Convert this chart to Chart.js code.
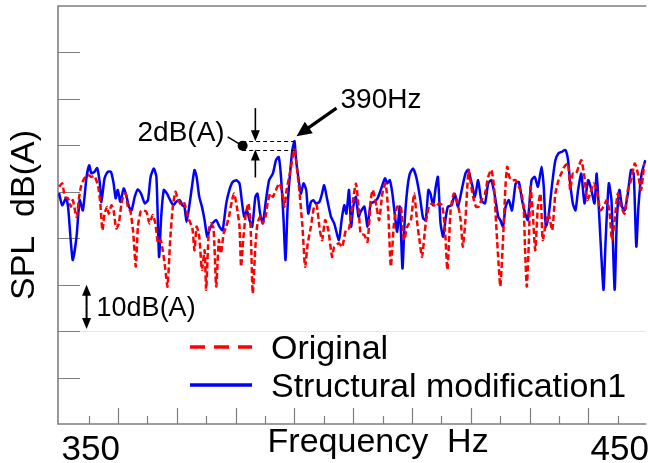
<!DOCTYPE html>
<html>
<head>
<meta charset="utf-8">
<script src="https://cdn.jsdelivr.net/npm/chart.js@4.4.1/dist/chart.umd.min.js"></script>
<style>
  html, body { margin: 0; padding: 0; background: #fff; }
  #wrap { width: 648px; height: 463px; }
</style>
</head>
<body>
<div id="wrap"><canvas id="splChart" width="648" height="463"></canvas></div>
<script>
// Original (red dashed)
const origFreq = [344.4, 345.0, 345.5, 346.1, 346.6, 347.0, 347.7, 348.2, 348.6, 349.2, 349.9, 350.5, 351.1, 351.8, 352.2, 352.6, 353.0, 353.5, 353.8, 354.3,
  354.7, 355.2, 355.7, 356.2, 356.6, 357.0, 357.4, 357.9, 358.4, 358.9, 359.3, 359.8, 360.2, 360.9, 361.5, 362.1, 362.6, 363.1, 363.6, 364.0,
  364.5, 364.9, 365.4, 365.9, 366.4, 366.8, 367.5, 368.1, 368.5, 369.0, 369.6, 370.0, 370.4, 370.9, 371.4, 371.9, 372.2, 372.7, 373.1, 373.6,
  374.1, 374.6, 375.0, 375.5, 376.0, 376.5, 377.1, 377.5, 378.0, 378.5, 378.8, 379.2, 379.7, 380.2, 380.6, 381.0, 381.5, 381.9, 382.4, 382.9,
  383.4, 383.8, 384.3, 384.8, 385.4, 386.0, 386.5, 387.0, 387.4, 387.9, 388.9, 389.3, 389.8, 390.4, 390.9, 391.4, 392.0, 392.6, 393.1, 393.6,
  394.1, 394.7, 395.3, 396.0, 396.4, 397.3, 397.9, 398.6, 399.2, 399.8, 400.5, 401.0, 401.4, 402.1, 402.7, 403.3, 403.7, 404.4, 404.9, 405.5,
  406.1, 406.6, 407.1, 407.7, 408.3, 409.0, 409.6, 410.2, 410.9, 411.5, 412.1, 412.6, 413.0, 413.7, 414.3, 414.9, 415.6, 416.2, 416.8, 417.3,
  417.8, 418.4, 419.0, 419.6, 420.3, 420.7, 421.2, 421.8, 422.4, 422.8, 423.2, 423.7, 424.2, 424.9, 425.5, 426.1, 426.6, 427.0, 427.5, 427.8,
  428.3, 428.8, 429.1, 429.5, 430.0, 430.7, 431.3, 431.8, 432.2, 432.5, 432.8, 433.2, 433.5, 433.9, 434.4, 434.9, 435.4, 435.8, 436.3, 436.9,
  437.6, 438.2, 438.8, 439.3, 439.9, 440.6, 441.0, 441.5, 442.1, 442.6, 443.1, 443.7, 444.2, 444.8, 445.4, 446.0, 446.7, 447.3, 447.9, 448.4,
  448.9, 449.4, 450.0, 450.6, 451.3, 451.9, 452.5, 453.2, 453.8, 454.4, 455.0];
const origLevel = [81.1, 81.8, 78.9, 78.6, 76.8, 78.2, 74.6, 78.9, 81.4, 82.9, 83.6, 83.2, 83.4, 81.1, 77.5, 71.7, 75.3, 76.8, 75.3, 77.1,
  76.0, 72.1, 73.2, 77.5, 79.3, 79.6, 76.8, 75.7, 71.4, 63.9, 72.5, 75.7, 76.0, 75.7, 73.2, 75.0, 73.2, 68.9, 69.6, 67.4,
  63.2, 59.6, 69.6, 76.8, 80.0, 78.6, 77.1, 77.5, 75.7, 73.9, 72.1, 67.4, 72.5, 70.3, 63.2, 67.4, 58.9, 71.7, 73.2, 72.1,
  59.6, 69.6, 66.7, 71.0, 72.5, 74.6, 78.2, 79.6, 76.8, 72.5, 63.9, 69.6, 75.3, 77.5, 72.5, 58.1, 68.1, 73.2, 74.6, 73.2,
  74.6, 77.5, 79.6, 78.9, 80.4, 81.8, 80.4, 76.8, 80.4, 83.2, 89.1, 85.7, 80.4, 72.5, 63.9, 68.9, 72.5, 76.8, 77.1, 72.5,
  69.6, 73.9, 71.7, 66.0, 68.1, 68.9, 68.1, 71.7, 72.1, 76.8, 81.8, 76.8, 71.0, 70.7, 69.2, 78.2, 80.4, 76.8, 73.9, 79.6,
  81.8, 76.0, 63.9, 73.2, 76.8, 76.8, 69.6, 72.5, 73.9, 79.6, 73.2, 68.9, 66.0, 73.2, 76.8, 77.5, 76.8, 77.5, 77.1, 72.5,
  63.2, 76.0, 79.6, 78.2, 73.9, 68.1, 73.9, 84.7, 80.4, 78.2, 76.8, 76.8, 78.2, 79.6, 83.2, 84.7, 81.1, 73.2, 63.9, 59.6,
  69.6, 81.8, 85.4, 83.2, 82.5, 82.5, 81.1, 79.6, 76.8, 66.7, 59.6, 69.6, 81.1, 76.0, 67.4, 76.8, 79.6, 69.6, 72.5, 75.3,
  71.7, 79.6, 82.5, 83.9, 85.4, 86.1, 80.4, 83.9, 83.9, 85.4, 86.8, 83.2, 78.2, 79.6, 81.8, 80.4, 76.0, 76.8, 78.2, 76.0,
  69.6, 73.9, 79.6, 76.8, 75.3, 80.4, 82.5, 86.1, 83.9, 80.4, 86.1];

// Structural modification1 (blue solid)
const modFreq = [344.4, 345.0, 345.7, 346.1, 346.6, 347.0, 347.7, 348.3, 348.9, 349.6, 350.1, 350.5, 351.1, 351.6, 352.1, 352.4, 353.0, 353.6, 354.2, 354.7,
  355.1, 355.5, 356.0, 356.6, 357.1, 357.6, 358.1, 358.7, 359.3, 359.9, 360.6, 361.2, 361.7, 362.3, 362.8, 363.3, 363.7, 364.2, 364.8, 365.4,
  366.0, 366.5, 367.2, 367.7, 368.1, 368.5, 369.0, 369.6, 370.0, 370.4, 370.9, 371.4, 371.9, 372.4, 372.8, 373.4, 374.1, 374.7, 375.3, 376.0,
  376.6, 377.2, 377.9, 378.5, 379.0, 379.4, 379.9, 380.4, 380.9, 381.5, 381.9, 382.4, 382.9, 383.5, 384.1, 384.8, 385.4, 385.9, 386.3, 386.8,
  387.2, 387.6, 388.0, 388.5, 388.9, 389.2, 389.7, 390.1, 390.6, 391.1, 391.5, 392.0, 392.5, 392.9, 393.6, 394.1, 394.5, 395.1, 395.8, 396.4,
  397.3, 397.8, 398.3, 398.7, 399.2, 399.6, 400.0, 400.5, 401.0, 401.4, 402.1, 402.7, 403.3, 403.9, 404.6, 405.2, 406.0, 406.4, 406.9, 407.4,
  407.9, 408.3, 408.8, 409.3, 409.7, 410.2, 410.7, 411.3, 411.9, 412.6, 413.2, 413.7, 414.2, 414.6, 415.1, 415.6, 416.0, 416.5, 417.0, 417.5,
  417.9, 418.6, 419.2, 419.8, 420.5, 421.2, 421.7, 422.4, 423.0, 423.6, 424.2, 424.9, 425.5, 426.1, 426.8, 427.4, 427.8, 428.3, 428.8, 429.4,
  430.0, 430.7, 431.3, 431.9, 432.5, 433.0, 433.7, 434.3, 434.9, 435.6, 436.0, 436.4, 436.9, 437.6, 438.2, 438.8, 439.4, 440.1, 440.6, 441.0,
  441.5, 442.0, 442.5, 443.1, 443.7, 444.4, 445.0, 445.6, 446.0, 446.5, 446.9, 447.3, 447.7, 448.3, 448.8, 449.4, 449.8, 450.3, 450.8, 451.3,
  451.9, 452.5, 453.0, 453.5, 453.9, 454.5, 455.2];
const modLevel = [79.7, 77.1, 78.6, 76.8, 69.6, 65.3, 70.3, 78.2, 76.0, 83.2, 85.7, 84.0, 84.3, 85.1, 81.9, 77.8, 82.9, 84.3, 84.3, 81.9,
  78.6, 80.4, 77.8, 80.7, 79.3, 76.8, 76.0, 78.9, 80.5, 79.6, 77.5, 78.2, 83.2, 85.0, 83.2, 66.0, 74.6, 80.4, 79.6, 78.2,
  77.1, 77.8, 78.2, 77.1, 76.8, 73.5, 76.8, 81.8, 84.7, 83.2, 78.9, 76.8, 73.9, 70.3, 71.7, 73.2, 73.9, 72.5, 71.7, 77.5,
  80.4, 82.1, 82.5, 81.8, 77.5, 74.6, 76.0, 73.9, 72.5, 78.9, 79.6, 75.3, 73.2, 78.2, 82.5, 83.9, 86.8, 87.5, 83.9, 74.6,
  65.3, 76.8, 83.2, 89.0, 90.9, 86.8, 82.5, 79.6, 81.8, 80.4, 75.3, 77.8, 78.2, 77.5, 77.8, 79.6, 81.4, 78.2, 74.6, 73.2,
  69.6, 73.9, 77.1, 75.3, 80.4, 72.5, 76.8, 78.9, 74.6, 75.7, 76.8, 72.5, 77.5, 77.8, 78.6, 80.4, 82.9, 81.8, 82.5, 79.6,
  74.6, 71.4, 76.8, 63.5, 73.2, 80.4, 83.9, 85.0, 83.2, 78.9, 74.3, 73.9, 80.4, 79.6, 77.1, 81.1, 83.2, 73.2, 70.3, 74.6,
  76.8, 77.1, 79.6, 76.8, 80.4, 83.9, 84.7, 81.8, 78.9, 82.5, 78.2, 77.5, 81.8, 82.5, 78.9, 74.6, 73.9, 72.5, 76.8, 78.2,
  76.0, 81.8, 82.1, 78.2, 75.3, 73.9, 82.5, 83.2, 81.1, 85.4, 81.1, 72.5, 74.6, 81.8, 86.8, 88.3, 88.6, 89.0, 86.8, 81.8,
  77.5, 76.0, 80.4, 83.9, 77.5, 82.5, 80.4, 77.5, 83.9, 74.6, 66.0, 58.9, 69.6, 81.8, 78.2, 58.9, 73.2, 80.4, 76.8, 76.0,
  79.6, 84.7, 83.9, 68.2, 76.8, 83.9, 86.8];

const seriesNames = ['Original', 'Structural modification1'];
const xLabelValues = [350, 450];      // the only labelled frequencies
const xTickStep = 100 / 18;            // spacing of the frequency tick marks
const freqMin = 344.2, freqMax = 455.4;
const splMin = 30, splMax = 120, splStep = 10;

const axisGrey = '#7f7f7f';
const sans = "'Liberation Sans', Arial, sans-serif";

function toPoints(freqs, levels) {
    return freqs.map((f, i) => ({x: f, y: levels[i]}));
}

function arrowHead(ctx, x1, y1, x2, y2, len, half) {
    const a = Math.atan2(y2 - y1, x2 - x1);
    ctx.beginPath();
    ctx.moveTo(x2, y2);
    ctx.lineTo(x2 - len * Math.cos(a) + half * Math.sin(a), y2 - len * Math.sin(a) - half * Math.cos(a));
    ctx.lineTo(x2 - len * Math.cos(a) - half * Math.sin(a), y2 - len * Math.sin(a) + half * Math.cos(a));
    ctx.closePath();
    ctx.fill();
}

function arrow(ctx, x1, y1, x2, y2, width, len, half) {
    const a = Math.atan2(y2 - y1, x2 - x1);
    ctx.lineWidth = width;
    ctx.beginPath();
    ctx.moveTo(x1, y1);
    ctx.lineTo(x2 - (len - 1) * Math.cos(a), y2 - (len - 1) * Math.sin(a));
    ctx.stroke();
    arrowHead(ctx, x1, y1, x2, y2, len, half);
}

// frame, inward tick marks, legend and the notes on the plot
const decor = {
    id: 'decor',
    beforeDatasetsDraw(chart) {
        const {ctx, chartArea: a, scales: {x, y}} = chart;
        ctx.save();
        // light line along the top of the legend box
        ctx.strokeStyle = '#e6e6e6';
        ctx.lineWidth = 1;
        ctx.beginPath();
        ctx.moveTo(a.left, Math.round(y.getPixelForValue(50)) + 0.5);
        ctx.lineTo(a.right, Math.round(y.getPixelForValue(50)) + 0.5);
        ctx.stroke();

        ctx.strokeStyle = axisGrey;
        ctx.lineWidth = 1.2;
        ctx.beginPath();
        y.ticks.forEach(t => {
            if (t.value <= splMin || t.value >= splMax) return;
            const py = Math.round(y.getPixelForValue(t.value)) + 0.5;
            ctx.moveTo(a.left, py);
            ctx.lineTo(a.left + 22, py);
        });
        x.ticks.forEach(t => {
            const k = Math.round((t.value - 350) / xTickStep);
            const px = Math.round(x.getPixelForValue(t.value)) + 0.5;
            ctx.moveTo(px, a.bottom);
            ctx.lineTo(px, a.bottom - (Math.abs(k) % 2 === 1 ? 16 : 8));
        });
        ctx.stroke();

        ctx.lineWidth = 1.6;
        ctx.beginPath();
        ctx.moveTo(a.right, a.top);
        ctx.lineTo(a.left, a.top);
        ctx.lineTo(a.left, a.bottom);
        ctx.lineTo(a.right, a.bottom);
        ctx.stroke();
        ctx.restore();
    },
    afterDatasetsDraw(chart) {
        const {ctx, chartArea: a, scales: {x, y}} = chart;
        ctx.save();

        // legend
        const ds = chart.data.datasets;
        const rows = [a.bottom - 77, a.bottom - 39];
        ds.forEach((d, i) => {
            ctx.strokeStyle = d.borderColor;
            ctx.lineWidth = 3.5;
            ctx.setLineDash(d.borderDash ? [15, 9] : []);
            ctx.beginPath();
            ctx.moveTo(a.left + 132, rows[i]);
            ctx.lineTo(a.left + 194, rows[i]);
            ctx.stroke();
            ctx.setLineDash([]);
            ctx.fillStyle = '#000';
            ctx.font = '34px ' + sans;
            ctx.textAlign = 'left';
            ctx.textBaseline = 'alphabetic';
            ctx.fillText(d.label, a.left + 213, rows[i] + 12);
        });

        // x axis title
        ctx.font = '34px ' + sans;
        ctx.textAlign = 'center';
        ctx.fillText('Frequency  Hz', x.getPixelForValue(404.7), a.bottom + 28);

        // 2dB(A) difference at the 390 Hz peak
        let pk = 0;
        modLevel.forEach((v, i) => { if (v > modLevel[pk]) pk = i; });
        const peakX = x.getPixelForValue(modFreq[pk]);
        const hiY = y.getPixelForValue(modLevel[pk]);
        const loY = y.getPixelForValue(Math.max(...origLevel));
        const startX = x.getPixelForValue(379.0);
        ctx.strokeStyle = '#000';
        ctx.fillStyle = '#000';
        ctx.lineWidth = 1;
        ctx.setLineDash([4, 3]);
        ctx.beginPath();
        ctx.moveTo(startX, Math.round(hiY) + 0.5);
        ctx.lineTo(peakX, Math.round(hiY) + 0.5);
        ctx.moveTo(startX, Math.round(loY) + 0.5);
        ctx.lineTo(peakX, Math.round(loY) + 0.5);
        ctx.stroke();
        ctx.setLineDash([]);

        const vx = x.getPixelForValue(381.5);
        arrow(ctx, vx, hiY - 33, vx, hiY, 1.6, 11, 4.5);
        arrow(ctx, vx, loY + 28, vx, loY, 1.6, 11, 4.5);

        const dotX = startX + 0.5, dotY = (hiY + loY) / 2 + 0.5;
        ctx.beginPath();
        ctx.arc(dotX, dotY, 5, 0, Math.PI * 2);
        ctx.fill();
        ctx.lineWidth = 1.6;
        ctx.beginPath();
        ctx.moveTo(dotX, dotY);
        ctx.lineTo(dotX - 15, dotY - 9);
        ctx.stroke();
        ctx.font = '28px ' + sans;
        ctx.textAlign = 'right';
        ctx.fillText('2dB(A)', dotX - 18, dotY - 5);

        // 390Hz pointer
        arrow(ctx, peakX + 42, hiY - 33, peakX + 2, hiY - 5, 3.2, 15, 7);
        ctx.textAlign = 'left';
        ctx.fillText('390Hz', peakX + 46, hiY - 33);

        // 10dB(A) scale bar
        const bx = x.getPixelForValue(349.6);
        const b1 = y.getPixelForValue(60), b2 = y.getPixelForValue(50) - 2;
        const bm = (b1 + b2) / 2;
        arrow(ctx, bx, bm, bx, b1, 2, 11, 4.5);
        arrow(ctx, bx, bm, bx, b2, 2, 11, 4.5);
        ctx.font = '27px ' + sans;
        ctx.fillText('10dB(A)', bx + 10, bm + 9);
        ctx.restore();
    }
};

new Chart(document.getElementById('splChart'), {
    type: 'line',
    data: {
        datasets: [{
            label: seriesNames[0],
            data: toPoints(origFreq, origLevel),
            borderColor: '#ff0000',
            borderWidth: 2.5,
            borderDash: [6, 3],
            pointRadius: 0,
            tension: 0.2,
            fill: false
        }, {
            label: seriesNames[1],
            data: toPoints(modFreq, modLevel),
            borderColor: '#0000ff',
            borderWidth: 2.5,
            pointRadius: 0,
            tension: 0.2,
            fill: false
        }]
    },
    options: {
        responsive: false,
        animation: false,
        devicePixelRatio: 1,
        layout: {padding: {top: 6, left: 0, right: 0, bottom: 0}},
        plugins: {legend: {display: false}, tooltip: {enabled: false}},
        scales: {
            x: {
                type: 'linear',
                min: freqMin,
                max: freqMax,
                grid: {display: false},
                border: {display: false},
                afterBuildTicks(axis) {
                    const ticks = [];
                    for (let k = 0; 350 + k * xTickStep <= freqMax; k++) {
                        ticks.push({value: 350 + k * xTickStep});
                    }
                    axis.ticks = ticks;
                },
                afterFit(axis) { axis.height = 39; },
                ticks: {
                    autoSkip: false,
                    maxRotation: 0,
                    minRotation: 0,
                    padding: 1,
                    labelOffset: 2,
                    color: '#000',
                    font: {family: sans, size: 35, lineHeight: 1},
                    callback: (v) => xLabelValues.some(l => Math.abs(l - v) < 0.01) ? String(Math.round(v)) : ''
                }
            },
            y: {
                min: splMin,
                max: splMax,
                grid: {display: false},
                border: {display: false},
                afterFit(axis) { axis.width = 58; },
                ticks: {display: false, stepSize: splStep},
                title: {
                    display: true,
                    text: 'SPL  dB(A)',
                    color: '#000',
                    font: {family: sans, size: 34, lineHeight: 1.2},
                    padding: {top: 4, bottom: 0}
                }
            }
        }
    },
    plugins: [decor]
});
</script>
</body>
</html>
